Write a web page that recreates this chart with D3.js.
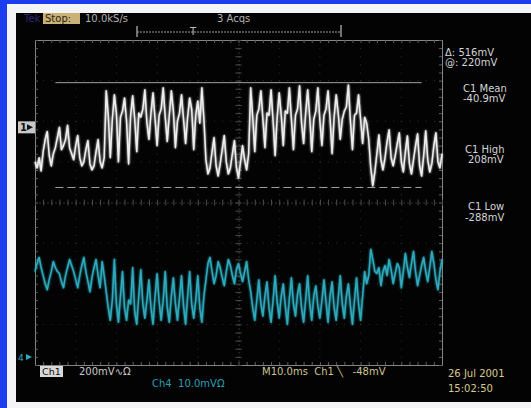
<!DOCTYPE html>
<html>
<head>
<meta charset="utf-8">
<script src="https://cdn.jsdelivr.net/npm/d3@7/dist/d3.min.js"></script>
<style>
  html, body { margin: 0; padding: 0; background: #1c3cf0; overflow: hidden; }
  svg { display: block; }
</style>
</head>
<body>
<svg id="scope" width="531" height="408"></svg>
<script>
// scope capture: 10 div x 10.0ms, one sample every 0.5 ms
const sampleMs = 0.5;
const recordMs = 100;

// Ch1 (white), mV
const ch1mV = [
  -170,-200,-150,-215,-120,-60,-20,-140,-190,-130,-100,-50,0,-110,-90,-60,10,-100,-130,-160,
  -90,-40,-150,-190,-170,-110,-65,-180,-210,-190,-120,-60,-170,-200,-150,
  180,60,-150,40,160,70,-170,50,80,145,30,-180,60,155,40,-120,70,50,90,185,
  20,-60,70,170,40,-90,60,90,195,50,-70,60,180,80,-100,30,70,160,40,-80,
  50,145,90,-110,60,130,20,195,40,
  -160,-230,-200,-120,-50,-190,-240,-180,-110,-40,-170,-230,-200,-130,-65,-200,-250,-170,-90,-160,
  -210,-130,
  195,50,-120,60,90,180,40,-100,70,60,185,30,-140,50,170,60,-90,80,70,195,
  40,-110,60,90,205,20,-80,70,185,50,-120,40,80,195,30,-90,60,90,180,40,
  -130,50,160,70,-60,40,80,100,209,30,-110,60,70,160,40,-80,50,20,
  -60,-200,-288,-220,-130,-37,-160,-210,-150,-70,-12,-150,-190,-140,-80,-27,-170,-220,-120,-42,
  -180,-230,-160,-90,-32,-190,-240,-140,-17,-160,-220,-180,-90,-27,-170,-200,-130
];

// Ch4 (cyan), mV
const ch4mV = [
  21,23,24.5,22,20,18,16.5,19,21,23.5,22,21,20.5,18.5,17,20,22,24,22.5,21,
  19,17,20,22.5,24.5,21,18.5,16,19.5,22,24,20,17,23.5,20,
  16,12,9,14,24,13,8.5,15,21,12,9,14,13,22,11,8,15,21.5,13,9.5,
  14,19,12,8,15,20.5,13.5,9,14,21,12,8.5,15,19.5,13,9,14.5,20,12.5,8,
  15,21,13,9.5,14,20,12,8.5,15,
  19,23,24.5,21,18,20,23.5,22,19.5,17.5,21,24,22.5,20,18,21.5,23,20.5,18.5,21,
  23.5,19,
  16,12,9,14,19,13,10,15,18.5,12,8.5,14,20,13.5,9.5,15,18,12.5,8,14.5,
  19.5,13,10,15.5,18,12,8.5,14,20,13,9,15,17.5,12.5,9.5,14,19,13.5,8.5,15,
  18.5,12,9,14.5,20,13,9.5,15,18,12.5,8,14,19.5,13,9,15,21,18,
  20,26.5,24,21,20.5,22,17.5,21,22.5,20,24,21.5,18,20.5,23,22,17,21,25.5,22,
  19.5,23,26,21,17.5,20,22.5,24.5,21,18.5,22,26,23,19,16.5,21,24
];

// vertical settings
const ch1MvPerDiv = 200;
const ch4MvPerDiv = 10;
const ch1OffsetDiv = 1.85;
const ch4OffsetDiv = -3.8;

// Ch1 cursors: @ level and @ minus delta
const cursorLevels = [220, 220 - 516];
const cursorSpanMs = [5, 95];

const measureLines = ["\u0394: 516mV", "@: 220mV", "C1 Mean", "-40.9mV", "C1 High", "208mV", "C1 Low", "-288mV"];
const topLabels = ["Tek", "Stop:", "10.0kS/s", "3 Acqs"];
const bottomLabels = ["Ch1", "200mV\u223F\u03A9", "Ch4  10.0mV\u03A9", "M10.0ms  Ch1 \u2572   -48mV", "26 Jul 2001", "15:02:50"];

const svg = d3.select('#scope');

// backdrop: blue slide, white frame, black screen
svg.append('rect').attr('width', 531).attr('height', 408).attr('fill', '#1c3cf0');
svg.append('rect').attr('x', 7).attr('y', 4).attr('width', 524).attr('height', 404).attr('fill', '#f4f4f6');
svg.append('rect').attr('x', 16).attr('y', 13).attr('width', 515).attr('height', 389).attr('fill', '#030303');

// glow for the traces
const defs = svg.append('defs');
const glow = defs.append('filter').attr('id', 'glow').attr('x', '-5%').attr('y', '-5%').attr('width', '110%').attr('height', '110%');
glow.append('feGaussianBlur').attr('stdDeviation', 1.1).attr('result', 'b');
const merge = glow.append('feMerge');
merge.append('feMergeNode').attr('in', 'b');
merge.append('feMergeNode').attr('in', 'SourceGraphic');

// scales
const gLeft = 35, gRight = 442, gTop = 40, gBottom = 365;
const xScale = d3.scaleLinear().domain([0, recordMs]).range([gLeft, gRight]);
const divScale = d3.scaleLinear().domain([-4, 4]).range([gBottom, gTop]);
const ch1Scale = d3.scaleLinear()
  .domain([(-4 - ch1OffsetDiv) * ch1MvPerDiv, (4 - ch1OffsetDiv) * ch1MvPerDiv])
  .range([gBottom, gTop]);
const ch4Scale = d3.scaleLinear()
  .domain([(-4 - ch4OffsetDiv) * ch4MvPerDiv, (4 - ch4OffsetDiv) * ch4MvPerDiv])
  .range([gBottom, gTop]);

// graticule
const grid = svg.append('g').attr('class', 'graticule');
const minorX = d3.range(0, recordMs + 0.01, 2);
const minorY = d3.range(-4, 4.01, 0.2);

grid.selectAll('line.vdiv')
  .data(d3.range(10, recordMs, 10).filter(d => d !== 50))
  .enter().append('line')
  .attr('x1', d => xScale(d)).attr('x2', d => xScale(d))
  .attr('y1', gTop).attr('y2', gBottom)
  .attr('stroke', '#333').attr('stroke-dasharray', '1,7.12');

grid.selectAll('line.hdiv')
  .data(d3.range(-3, 4, 1).filter(d => d !== 0))
  .enter().append('line')
  .attr('x1', gLeft).attr('x2', gRight)
  .attr('y1', d => divScale(d)).attr('y2', d => divScale(d))
  .attr('stroke', '#333').attr('stroke-dasharray', '1,7.14');

// frame with inward minor ticks
const tickStyle = g => {
  g.selectAll('text').remove();
  g.select('.domain').attr('stroke', '#858585');
  g.selectAll('.tick line').attr('stroke', '#5e5e5e');
};
grid.append('g').attr('transform', `translate(0,${gTop})`)
  .call(d3.axisTop(xScale).tickValues(minorX).tickSize(-3).tickSizeOuter(0)).call(tickStyle);
grid.append('g').attr('transform', `translate(0,${gBottom})`)
  .call(d3.axisBottom(xScale).tickValues(minorX).tickSize(-3).tickSizeOuter(0)).call(tickStyle);
grid.append('g').attr('transform', `translate(${gLeft},0)`)
  .call(d3.axisLeft(divScale).tickValues(minorY).tickSize(-3).tickSizeOuter(0)).call(tickStyle);
grid.append('g').attr('transform', `translate(${gRight},0)`)
  .call(d3.axisRight(divScale).tickValues(minorY).tickSize(-3).tickSizeOuter(0)).call(tickStyle);

// center cross with ticks both sides
const centerStyle = g => {
  g.selectAll('text').remove();
  g.select('.domain').attr('stroke', '#3a3a3a').attr('stroke-dasharray', '1,3');
  g.selectAll('.tick line').attr('stroke', '#4e4e4e');
};
grid.append('g').attr('transform', `translate(0,${divScale(0)})`)
  .call(d3.axisTop(xScale).tickValues(minorX).tickSize(3).tickSizeOuter(0)).call(centerStyle);
grid.append('g').attr('transform', `translate(0,${divScale(0)})`)
  .call(d3.axisBottom(xScale).tickValues(minorX).tickSize(3).tickSizeOuter(0)).call(centerStyle);
grid.append('g').attr('transform', `translate(${xScale(50)},0)`)
  .call(d3.axisLeft(divScale).tickValues(minorY).tickSize(3).tickSizeOuter(0)).call(centerStyle);
grid.append('g').attr('transform', `translate(${xScale(50)},0)`)
  .call(d3.axisRight(divScale).tickValues(minorY).tickSize(3).tickSizeOuter(0)).call(centerStyle);

// cursors
svg.append('g').selectAll('line')
  .data(cursorLevels)
  .enter().append('line')
  .attr('x1', xScale(cursorSpanMs[0])).attr('x2', xScale(cursorSpanMs[1]))
  .attr('y1', d => ch1Scale(d)).attr('y2', d => ch1Scale(d))
  .attr('stroke', '#a0a0a0').attr('stroke-width', 1)
  .attr('stroke-dasharray', (d, i) => i === 0 ? null : '8,4');

// traces
const traceLine = scale => d3.line()
  .x((d, i) => xScale(i * sampleMs))
  .y(d => scale(d));

svg.append('path')
  .datum(ch4mV)
  .attr('d', traceLine(ch4Scale))
  .attr('fill', 'none').attr('stroke', '#2eaabd').attr('stroke-width', 1.5)
  .attr('stroke-linejoin', 'round').attr('filter', 'url(#glow)');

svg.append('path')
  .datum(ch1mV)
  .attr('d', traceLine(ch1Scale))
  .attr('fill', 'none').attr('stroke', '#eeeeee').attr('stroke-width', 1.5)
  .attr('stroke-linejoin', 'round').attr('filter', 'url(#glow)');

// channel ground markers
const m1 = ch1Scale(0);
svg.append('rect').attr('x', 18).attr('y', m1 - 6).attr('width', 17).attr('height', 12).attr('fill', '#c8c8c8');
svg.append('text').attr('x', 20).attr('y', m1 + 4).text('1')
  .attr('font-family', 'DejaVu Sans').attr('font-size', '10px').attr('font-weight', '700').attr('fill', '#111');
svg.append('path').attr('d', `M27,${m1 - 3}L33,${m1}L27,${m1 + 3}Z`).attr('fill', '#111');

const m4 = ch4Scale(0);
svg.append('text').attr('x', 18).attr('y', m4 + 4).text('4')
  .attr('font-family', 'DejaVu Sans').attr('font-size', '9px').attr('fill', '#2eaabd');
svg.append('path').attr('d', `M26,${m4 - 3}L32,${m4}L26,${m4 + 3}Z`).attr('fill', '#2eaabd');

// top status line
const font = 'DejaVu Sans';
svg.append('text').attr('x', 24).attr('y', 22).text(topLabels[0])
  .attr('font-family', font).attr('font-size', '10px').attr('fill', '#2e2870');
svg.append('rect').attr('x', 43).attr('y', 13).attr('width', 37).attr('height', 11).attr('fill', '#c9b178');
svg.append('text').attr('x', 45).attr('y', 22).text(topLabels[1])
  .attr('font-family', font).attr('font-size', '10px').attr('fill', '#2a2410');
svg.append('text').attr('x', 85).attr('y', 22).text(topLabels[2])
  .attr('font-family', font).attr('font-size', '10px').attr('fill', '#b0b0b0');
svg.append('text').attr('x', 217).attr('y', 22).text(topLabels[3])
  .attr('font-family', font).attr('font-size', '10px').attr('fill', '#b0b0b0');

// trigger position bar
const bar = svg.append('g').attr('stroke', '#9a9a9a').attr('fill', 'none');
bar.append('line').attr('x1', 137).attr('x2', 341).attr('y1', 32).attr('y2', 32).attr('stroke-dasharray', '2,1');
bar.append('line').attr('x1', 137).attr('x2', 137).attr('y1', 26).attr('y2', 37).attr('stroke-width', 1.5);
bar.append('line').attr('x1', 341).attr('x2', 341).attr('y1', 25).attr('y2', 37).attr('stroke-width', 1.5);
svg.append('text').attr('x', 193).attr('y', 35).attr('text-anchor', 'middle').text('T')
  .attr('font-family', font).attr('font-size', '10px').attr('fill', '#bdbdbd');

// measurement readouts on the right
const measureX = [445, 445, 463, 463, 465, 468, 468, 465];
const measureY = [56, 66, 92, 102, 153, 163, 210, 221];
svg.append('g').selectAll('text')
  .data(measureLines)
  .enter().append('text')
  .attr('x', (d, i) => measureX[i])
  .attr('y', (d, i) => measureY[i])
  .text(d => d)
  .attr('font-family', font).attr('font-size', '10px').attr('fill', '#d4d4d4');

// bottom readouts
svg.append('rect').attr('x', 40).attr('y', 366).attr('width', 23).attr('height', 11).attr('fill', '#d8d8d8');
svg.append('text').attr('x', 42).attr('y', 375).text(bottomLabels[0])
  .attr('font-family', font).attr('font-size', '9.5px').attr('fill', '#111');
svg.append('text').attr('x', 79).attr('y', 375).text(bottomLabels[1])
  .attr('font-family', font).attr('font-size', '10px').attr('fill', '#c8c8c8');
svg.append('text').attr('x', 152).attr('y', 387).text(bottomLabels[2])
  .attr('font-family', font).attr('font-size', '10px').attr('fill', '#2a9fb0').attr('xml:space', 'preserve');
svg.append('text').attr('x', 262).attr('y', 375).text(bottomLabels[3])
  .attr('font-family', font).attr('font-size', '10px').attr('fill', '#cdc392').attr('xml:space', 'preserve');
svg.append('text').attr('x', 448).attr('y', 377).text(bottomLabels[4])
  .attr('font-family', font).attr('font-size', '10px').attr('fill', '#d8c98e');
svg.append('text').attr('x', 448).attr('y', 392).text(bottomLabels[5])
  .attr('font-family', font).attr('font-size', '10px').attr('fill', '#d8c98e');
</script>
</body>
</html>
